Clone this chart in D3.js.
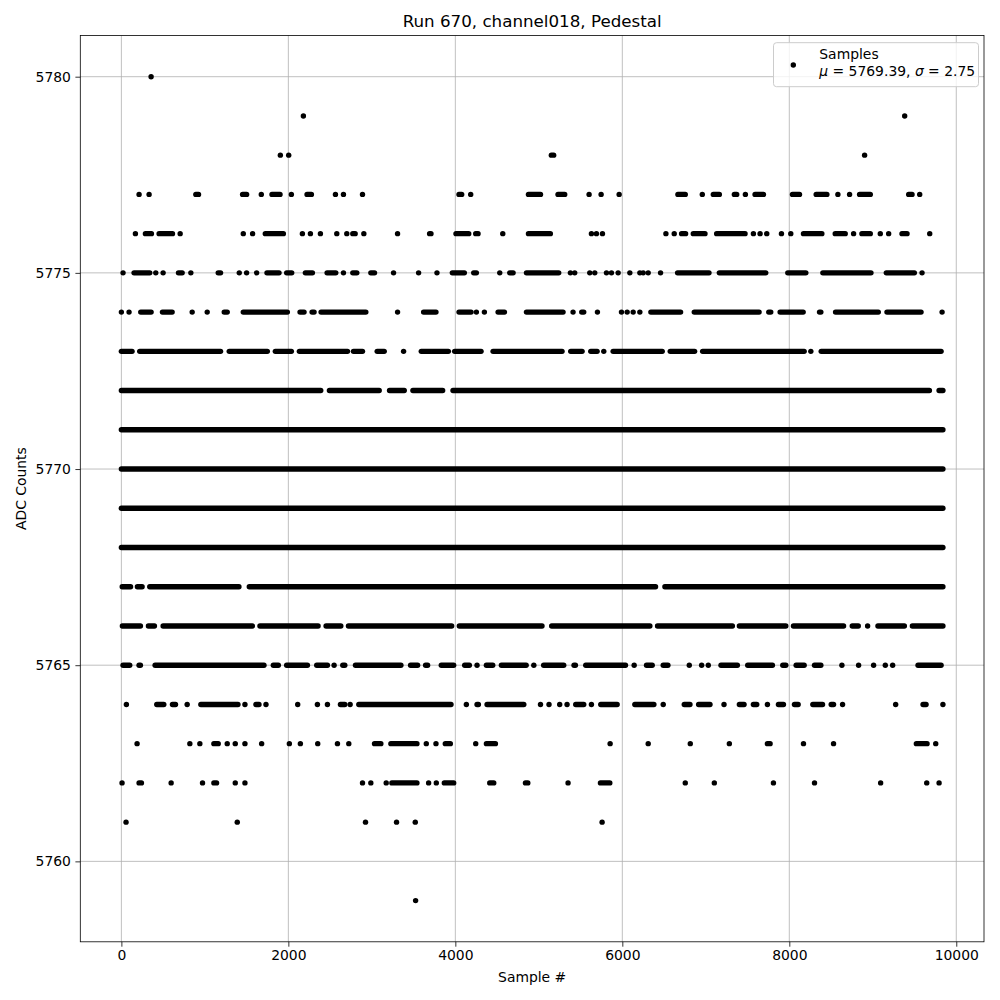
<!DOCTYPE html>
<html>
<head>
<meta charset="utf-8">
<script src="https://cdn.jsdelivr.net/npm/d3@7"></script>
<style>
  html, body { margin: 0; padding: 0; background: #fff; }
  text { font-family: "DejaVu Sans", sans-serif; fill: #000; }
</style>
</head>
<body>
<svg id="chart" width="1000" height="1000"></svg>
<script>
// ---------------- DATA ----------------
// Sample index positions observed at each ADC level.
// A single number = one sample; a pair [a, b] = a stretch of consecutive
// samples that all sit on that level (the dots merge into a solid band).
const title = "Run 670, channel018, Pedestal";
const xLabel = "Sample #";
const yLabel = "ADC Counts";
const legendName = "Samples";
const meanValue = 5769.39;
const sigmaValue = 2.75;
const xTicks = [0, 2000, 4000, 6000, 8000, 10000];
const yTicks = [5760, 5765, 5770, 5775, 5780];
const xExtent = [0, 9840];
const yExtent = [5759, 5780];

const lvl5780 = [356];
const lvl5779 = [2180, 9382];
const lvl5778 = [1904, 2004, [5150, 5178], 8902];
const lvl5777 = [212, 332, [892, 924], [1452, 1500], 1676, [1804, 1900], 2036, [2224, 2276], 2564, 2660, 2888,
  [4044, 4076], 4184, [4876, 5020], [5230, 5310], 5602, 5746, 5962, [6666, 6754], 6958, [7090, 7162],
  [7342, 7370], 7474, [7590, 7690], [8038, 8122], [8322, 8450], 8582, 8722, [8842, 8970], [9430, 9470], 9562];
const lvl5776 = [168, [288, 360], [452, 612], 704, 1460, 1572, [1724, 1940], 2168, 2264, 2384, 2580, 2700,
  [2772, 2800], 2904, 3308, [3692, 3708], [4008, 4160], [4244, 4272], 4568, [4876, 5138], 5630, 5690, 5762,
  6522, 6622, [6710, 6758], [6850, 6990], [7130, 7470], 7570, 7650, 7730, 7906, 8018, [8170, 8390],
  [8550, 8670], 8770, [8870, 8970], 9090, 9190, [9350, 9410], 9682];
const lvl5775 = [20, [152, 340], 412, 500, [684, 728], 832, [1160, 1188], 1412, 1500, 1620, [1744, 1888],
  [1980, 2040], [2204, 2288], [2464, 2568], 2660, [2772, 2820], [2988, 3032], 3260, 3560, 3780, [3964, 4108],
  [4220, 4252], 4532, [4652, 4692], [4852, 5238], 5378, 5430, 5610, 5670, 5810, 5870, 5950, 6090, 6210,
  6250, 6310, 6458, [6662, 7038], [7162, 7718], [7982, 8198], [8402, 8978], [9162, 9498], 9590];
const lvl5774 = [0, 92, [232, 356], [492, 608], 848, 1028, [1232, 1268], [1460, 1988], [2140, 2188],
  [2284, 2308], [2392, 2928], 3308, [3620, 3768], [4044, 4188], 4252, 4348, [4512, 4588], [4852, 5290],
  5410, [5514, 5538], 5702, 5990, 6058, 6130, 6210, [6342, 6698], [6862, 7638], [7754, 7778], [7890, 8166],
  [8362, 8378], [8554, 9066], [9170, 9578], 9830];
const lvl5773 = [[0, 128], [220, 1188], [1292, 1748], [1844, 2036], [2132, 2708], [2780, 2888], [3064, 3148],
  3380, [3592, 3916], [3992, 4308], [4452, 5278], [5382, 5518], [5622, 5698], 5778, [5890, 6478],
  [6574, 6866], [6962, 8178], 8258, [8382, 9818]];
const lvl5772 = [[0, 2388], [2492, 3088], [3212, 3388], [3492, 3848], [3972, 9678], [9794, 9840]];
const lvl5771 = [[0, 9840]];
const lvl5770 = [[0, 9840]];
const lvl5769 = [[0, 9840]];
const lvl5768 = [[0, 9840]];
const lvl5767 = [[10, 110], [192, 248], [340, 1408], [1532, 6398], [6510, 9840]];
const lvl5766 = [[12, 228], [324, 396], [500, 1568], [1660, 2356], [2452, 2628], [2720, 3956], [4048, 5038],
  [5154, 6330], [6422, 7318], [7402, 7958], [8050, 8650], [8754, 8826], 8938, [9062, 9378], [9474, 9840]];
const lvl5765 = [[20, 100], [212, 228], [404, 1708], [1820, 1880], [1980, 2228], [2340, 2468], 2548,
  [2652, 2676], [2804, 3348], [3464, 3548], [3644, 3668], [3832, 3980], [4112, 4168], 4260, [4372, 4448],
  [4552, 4848], 4940, [5058, 5298], [5422, 5438], [5562, 6038], 6142, [6290, 6358], [6490, 6546], 6802,
  6950, 7030, [7182, 7378], [7502, 7798], [7922, 7958], [8082, 8178], [8302, 8378], 8630, 8830, 9010,
  9150, 9238, [9542, 9818]];
const lvl5764 = [60, [424, 508], [612, 648], 788, [952, 1396], 1480, [1612, 1648], 1732, 2112, 2348, 2468,
  [2624, 2676], 2740, [2844, 3948], 4132, [4260, 4276], [4380, 4820], 5020, 5122, 5250, 5338, [5442, 5538],
  5630, [5742, 5938], [6150, 6378], 6490, [6742, 6810], [6914, 7050], 7218, [7402, 7458], [7570, 7610],
  7738, [7870, 7930], [8062, 8106], [8282, 8398], [8502, 8530], 8638, 9274, [9602, 9638], 9840];
const lvl5763 = [188, 820, 940, [1108, 1160], 1268, 1364, 1480, 1680, 2012, 2144, 2352, 2588, 2724,
  [3032, 3108], [3228, 3540], 3652, 3768, [3880, 3940], 4244, [4372, 4480], 5854, 6310, 6814, 7282,
  [7738, 7770], 8170, 8530, [9522, 9650], 9754];
const lvl5762 = [8, [212, 240], 596, 972, [1108, 1140], 1364, 1480, 2888, 2988, 3172, [3240, 3540], 3680,
  3772, [3868, 3980], [4412, 4460], [4840, 4868], 5350, [5738, 5850], 6754, 7102, 7810, 8302, 9094, 9646, 9794];
const lvl5761 = [56, 1388, 2924, 3296, 3520, 5758];
const lvl5760 = [];
const lvl5759 = [3524];

const levelValues = [5780, 5779, 5778, 5777, 5776, 5775, 5774, 5773, 5772, 5771,
                     5770, 5769, 5768, 5767, 5766, 5765, 5764, 5763, 5762, 5761, 5760, 5759];
const levelSamples = [lvl5780, lvl5779, lvl5778, lvl5777, lvl5776, lvl5775, lvl5774, lvl5773, lvl5772, lvl5771,
                      lvl5770, lvl5769, lvl5768, lvl5767, lvl5766, lvl5765, lvl5764, lvl5763, lvl5762, lvl5761,
                      lvl5760, lvl5759];

// ---------------- LAYOUT ----------------
const W = 1000, H = 1000;
const plot = { left: 80.3, right: 984, top: 35.5, bottom: 941.8 };
const svg = d3.select("#chart");
svg.append("rect").attr("width", W).attr("height", H).attr("fill", "#fff");

// matplotlib-style 5% margins
const xPad = (xExtent[1] - xExtent[0]) * 0.05;
const yPad = (yExtent[1] - yExtent[0]) * 0.05;
const x = d3.scaleLinear().domain([xExtent[0] - xPad, xExtent[1] + xPad]).range([plot.left, plot.right]);
const y = d3.scaleLinear().domain([yExtent[0] - yPad, yExtent[1] + yPad]).range([plot.bottom, plot.top]);

const fs = 13.9;
const gridColor = "#b0b0b0";

// clip
svg.append("clipPath").attr("id", "clip").append("rect")
  .attr("x", plot.left).attr("y", plot.top)
  .attr("width", plot.right - plot.left).attr("height", plot.bottom - plot.top);

// grid
const grid = svg.append("g");
xTicks.forEach(t => grid.append("line")
  .attr("x1", x(t)).attr("x2", x(t)).attr("y1", plot.top).attr("y2", plot.bottom)
  .attr("stroke", gridColor).attr("stroke-width", 0.8));
yTicks.forEach(t => grid.append("line")
  .attr("y1", y(t)).attr("y2", y(t)).attr("x1", plot.left).attr("x2", plot.right)
  .attr("stroke", gridColor).attr("stroke-width", 0.8));

// points
const R = 2.7;
const marks = svg.append("g").attr("clip-path", "url(#clip)");
levelValues.forEach((lv, i) => {
  const yy = y(lv);
  const entries = levelSamples[i];
  const singles = entries.filter(e => !Array.isArray(e));
  const runs = entries.filter(e => Array.isArray(e));
  marks.selectAll(null).data(runs).enter().append("line")
    .attr("x1", d => x(d[0])).attr("x2", d => x(d[1]))
    .attr("y1", yy).attr("y2", yy)
    .attr("stroke", "#000").attr("stroke-width", 2 * R).attr("stroke-linecap", "round");
  marks.selectAll(null).data(singles).enter().append("circle")
    .attr("cx", d => x(d)).attr("cy", yy).attr("r", R).attr("fill", "#000");
});

// axes
const xAxis = d3.axisBottom(x).tickValues(xTicks).tickSize(4.9).tickPadding(3.5).tickFormat(d3.format("d"));
const yAxis = d3.axisLeft(y).tickValues(yTicks).tickSize(4.9).tickPadding(4.5).tickFormat(d3.format("d"));
const gx = svg.append("g").attr("transform", `translate(0,${plot.bottom})`).call(xAxis);
const gy = svg.append("g").attr("transform", `translate(${plot.left},0)`).call(yAxis);
[gx, gy].forEach(g => {
  g.select(".domain").remove();
  g.selectAll(".tick line").attr("stroke", "#000").attr("stroke-width", 0.8);
  g.selectAll(".tick text").attr("font-size", fs).attr("font-family", "DejaVu Sans").attr("fill", "#000");
});

// frame
svg.append("rect").attr("x", plot.left).attr("y", plot.top)
  .attr("width", plot.right - plot.left).attr("height", plot.bottom - plot.top)
  .attr("fill", "none").attr("stroke", "#000").attr("stroke-width", 0.8);

// title and labels
svg.append("text").attr("x", (plot.left + plot.right) / 2).attr("y", 26.5)
  .attr("text-anchor", "middle").attr("font-size", 16.7).text(title);
svg.append("text").attr("x", (plot.left + plot.right) / 2).attr("y", 982)
  .attr("text-anchor", "middle").attr("font-size", fs).text(xLabel);
svg.append("text").attr("transform", `translate(26,${(plot.top + plot.bottom) / 2}) rotate(-90)`)
  .attr("text-anchor", "middle").attr("font-size", fs).text(yLabel);

// legend
const lg = svg.append("g");
lg.append("rect").attr("x", 773.5).attr("y", 42.7).attr("width", 205).attr("height", 44)
  .attr("rx", 3).attr("fill", "#fff").attr("fill-opacity", 0.8)
  .attr("stroke", "#cccccc").attr("stroke-width", 1);
lg.append("circle").attr("cx", 793.3).attr("cy", 65).attr("r", R).attr("fill", "#000");
lg.append("text").attr("x", 819.3).attr("y", 58.5).attr("font-size", fs).text(legendName);
const t2 = lg.append("text").attr("x", 819.3).attr("y", 76.3).attr("font-size", fs);
t2.append("tspan").attr("font-style", "italic").text("\u03bc");
t2.append("tspan").text(` = ${meanValue.toFixed(2)}, `);
t2.append("tspan").attr("font-style", "italic").text("\u03c3");
t2.append("tspan").text(` = ${sigmaValue.toFixed(2)}`);
</script>
</body>
</html>
